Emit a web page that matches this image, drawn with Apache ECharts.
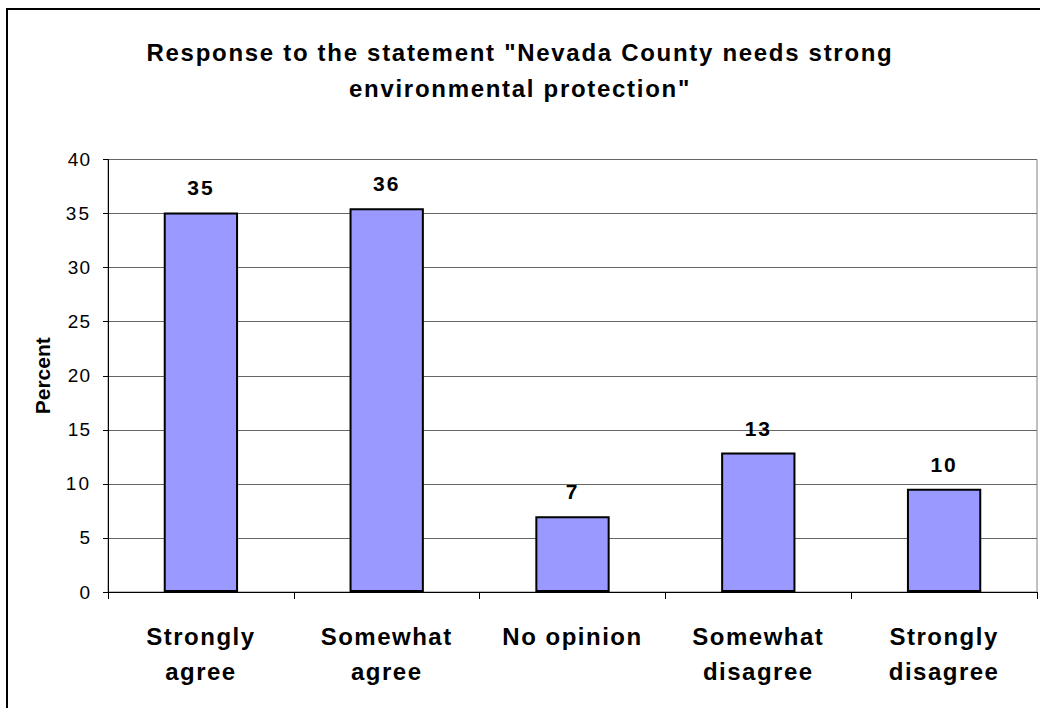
<!DOCTYPE html>
<html>
<head>
<meta charset="utf-8">
<script src="https://cdn.jsdelivr.net/npm/echarts@6/dist/echarts.min.js"></script>
<style>html,body{margin:0;padding:0;background:#fff}#c{width:1040px;height:708px}</style>
</head>
<body>
<div id="c"></div>
<script>
var titleText = 'Response to the statement "Nevada County needs strong\nenvironmental protection"';
var categories = ['Strongly\nagree', 'Somewhat\nagree', 'No opinion', 'Somewhat\ndisagree', 'Strongly\ndisagree'];
var values = [35.1, 35.5, 7.0, 12.9, 9.55];
var valueLabels = ['35', '36', '7', '13', '10'];
var yTicks = [0, 5, 10, 15, 20, 25, 30, 35, 40];
var yName = 'Percent';

var chart = echarts.init(document.getElementById('c'), null, {renderer: 'svg'});
var font = 'Liberation Sans, Arial, sans-serif';
chart.setOption({
  backgroundColor: '#fff',
  animation: false,
  title: {
    text: titleText,
    left: 'center',
    top: 29,
    textStyle: {fontFamily: font, fontWeight: 'bold', fontSize: 24, color: '#000', lineHeight: 36}
  },
  graphic: [{
    type: 'rect',
    shape: {x: 7, y: 9, width: 1060, height: 720},
    style: {fill: 'none', stroke: '#000', lineWidth: 2},
    silent: true
  }],
  grid: {left: 108, right: 3, top: 159.5, bottom: 116, show: true, borderColor: '#808080', borderWidth: 1},
  xAxis: {
    type: 'category',
    data: categories,
    boundaryGap: true,
    axisLine: {lineStyle: {color: '#000', width: 1}},
    axisTick: {show: true, length: 7, alignWithLabel: false, lineStyle: {color: '#000'}},
    axisLabel: {
      interval: 0, margin: 27,
      fontFamily: font, fontWeight: 'bold', fontSize: 24, color: '#000', lineHeight: 35
    }
  },
  yAxis: {
    type: 'value',
    min: yTicks[0], max: yTicks[yTicks.length - 1], interval: 5,
    name: yName,
    nameLocation: 'middle',
    nameGap: 55,
    nameRotate: 90,
    nameTextStyle: {fontFamily: font, fontWeight: 'bold', fontSize: 21, color: '#000'},
    axisLine: {show: true, lineStyle: {color: '#000', width: 1}},
    axisTick: {show: true, length: 5, lineStyle: {color: '#000'}},
    axisLabel: {margin: 17, fontFamily: font, fontSize: 19, color: '#000'},
    splitLine: {show: true, lineStyle: {color: '#666', width: 1}}
  },
  series: [{
    type: 'bar',
    data: values,
    barWidth: '40%',
    itemStyle: {color: '#9999FF', borderColor: '#000', borderWidth: 2},
    label: {
      show: true, position: 'top', distance: 14,
      fontFamily: font, fontWeight: 'bold', fontSize: 21, color: '#000',
      formatter: function (p) { return valueLabels[p.dataIndex]; }
    }
  }]
});

// letter spacing to match the wide-set lettering of the original
function applySpacing() {
  var titleLines = titleText.split('\n');
  var catLines = [];
  categories.forEach(function (c) { catLines = catLines.concat(c.split('\n')); });
  var nodes = document.querySelectorAll('#c svg text, #c svg tspan');
  nodes.forEach(function (n) {
    var t = (n.textContent || '').trim();
    var s = null;
    if (titleLines.indexOf(t) >= 0) s = '1.7px';
    else if (catLines.indexOf(t) >= 0) s = '1.5px';
    else if (valueLabels.indexOf(t) >= 0) s = '2px';
    else if (/^\d+$/.test(t)) s = '1px';
    if (s) n.style.letterSpacing = s;
  });
}
applySpacing();
chart.on('finished', applySpacing);
</script>
</body>
</html>
